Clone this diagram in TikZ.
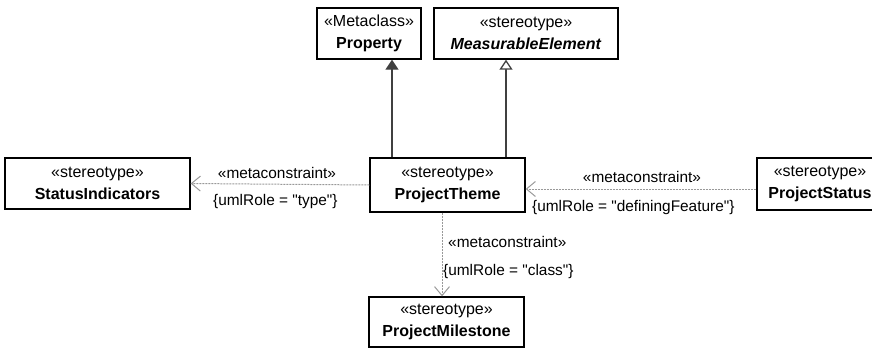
\documentclass[tikz,border=0pt]{standalone}
\usepackage{fontspec}
\setmainfont{Liberation Sans}[Ligatures=TeXOff]
\usetikzlibrary{arrows.meta}
\begin{document}
\begin{tikzpicture}[x=1pt,y=-1pt,
 cls/.style={draw=black,line width=1.3pt,fill=white,inner sep=0pt,align=center,font=\fontsize{16}{22}\selectfont},
 lbl/.style={inner sep=0pt,font=\fontsize{15.4}{18}\selectfont},
 gen/.style={draw=black!75,line width=1.3pt},
 dep/.style={draw=black!40,line width=1pt,dash pattern=on 2pt off 1pt,-{Straight Barb[length=9pt,width=15pt,line width=1pt]}}]
\useasboundingbox (0,0) rectangle (872,348);
\node[cls,minimum width=104pt,minimum height=51pt] (prop) at (369,33.5) {«Metaclass»\\\textbf{Property}};
\node[cls,minimum width=184pt,minimum height=51pt] (meas) at (526,33.5) {«stereotype»\\\textbf{\textit{MeasurableElement}}};
\node[cls,minimum width=185pt,minimum height=51pt] (stat) at (97.5,183.5) {«stereotype»\\\textbf{StatusIndicators}};
\node[cls,minimum width=155pt,minimum height=54pt] (theme) at (447.5,185) {«stereotype»\\\textbf{ProjectTheme}};
\node[cls,minimum width=126pt,minimum height=52pt] (pstat) at (820,184) {«stereotype»\\\textbf{ProjectStatus}};
\node[cls,minimum width=155pt,minimum height=50pt] (mile) at (446.5,322) {«stereotype»\\\textbf{ProjectMilestone}};
% generalizations
\draw[gen,-{Triangle[length=10pt,width=13pt,fill=black!75]}] ([xshift=-55.5pt]theme.north) -- ([xshift=23pt]prop.south);
\draw[gen,-{Triangle[open,length=10pt,width=13pt,fill=white]}] ([xshift=58.5pt]theme.north) -- ([xshift=-20pt]meas.south);
% dependencies
\draw[dep] (theme.west) -- (stat.east);
\draw[dep] ([yshift=-5pt]pstat.west) -- ([yshift=-4pt]theme.east);
\draw[dep] ([xshift=-5.5pt]theme.south) -- ([xshift=-4.5pt]mile.north);
% labels
\node[lbl] (l1a) at (277,173) {«metaconstraint»};
\node[lbl,anchor=west] (l1b) at (213,202) {\{umlRole = "type"\}};
\node[lbl] (l2a) at (642,177) {«metaconstraint»};
\node[lbl,anchor=west] (l2b) at (532,208) {\{umlRole = "definingFeature"\}};
\node[lbl,anchor=west] (l3a) at (448,242) {«metaconstraint»};
\node[lbl,anchor=west] (l3b) at (443,272) {\{umlRole = "class"\}};
\end{tikzpicture}
\end{document}
